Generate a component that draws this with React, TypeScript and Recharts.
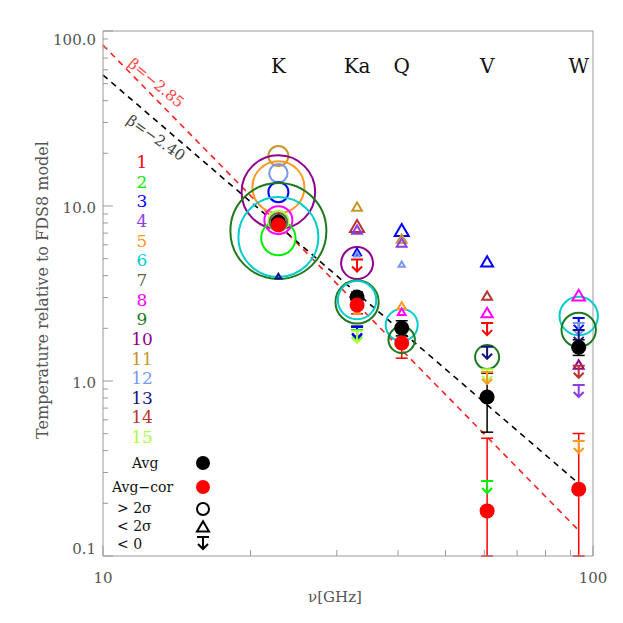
import React from "react";
import { ComposedChart, XAxis, YAxis, Scatter, ErrorBar, ReferenceLine } from "recharts";

// WMAP bands
const bandNames = ["K", "Ka", "Q", "V", "W"];
const bandNu = [22.8, 33.0, 40.7, 60.8, 93.5];

// region colours, 1..15
const regionColors = [
  "#ff0000", "#00ee00", "#0000ff", "#8a3ee0", "#ff9922",
  "#00cccc", "#5b6b4b", "#ff00ff", "#1f7a1f", "#900090",
  "#c8962a", "#7799ee", "#141480", "#bb3333", "#aaff44",
];

// > 2 sigma detections: [band, region, T, significance]
const detections: [number, number, number, number][] = [
  [0, 11, 19.3, 2.5], [0, 12, 15.4, 2.3], [0, 3, 12.0, 2.5], [0, 5, 12.8, 6.5],
  [0, 10, 12.0, 9.2], [0, 9, 7.2, 12], [0, 6, 6.65, 10], [0, 8, 8.3, 3.5],
  [0, 2, 6.56, 4.3], [0, 15, 8.2, 2.5], [0, 7, 8.1, 2.2],
  [1, 10, 4.72, 4.0], [1, 9, 2.83, 5.4], [1, 6, 2.9, 4.8],
  [2, 6, 2.09, 4.0], [2, 9, 1.72, 3.3],
  [3, 9, 1.37, 3.0],
  [4, 6, 2.35, 4.8], [4, 9, 1.96, 4.3],
];

// < 2 sigma: [band, region, T, significance]
const weak: [number, number, number, number][] = [
  [0, 14, 8.5, 1.2], [0, 13, 3.93, 0.8],
  [1, 11, 9.74, 1.4], [1, 14, 7.49, 2.0], [1, 4, 7.2, 1.4], [1, 3, 5.39, 1.1],
  [1, 12, 5.25, 0.8], [1, 5, 2.48, 0.8],
  [2, 3, 7.1, 2.0], [2, 11, 6.39, 1.4], [2, 4, 6.07, 1.4], [2, 12, 4.6, 0.9],
  [2, 5, 2.65, 1.2], [2, 8, 2.45, 1.1], [2, 2, 1.9, 0.8],
  [3, 3, 4.72, 1.7], [3, 14, 3.02, 1.4], [3, 8, 2.41, 1.6],
  [4, 8, 3.02, 1.8], [4, 10, 1.22, 1.4],
];

// < 0: [band, region, T]
const negative: [number, number, number][] = [
  [1, 1, 4.57], [1, 13, 1.9], [1, 3, 1.88], [1, 2, 1.81], [1, 15, 1.79],
  [3, 1, 1.98], [3, 13, 1.45], [3, 15, 1.08], [3, 5, 1.04], [3, 2, 0.248],
  [4, 3, 2.12], [4, 12, 1.98], [4, 13, 1.81], [4, 14, 1.13], [4, 4, 0.877], [4, 5, 0.42],
];

const avgT = [8.1, 3.02, 2.01, 0.81, 1.56];
const avgErr = [0.3, 0.2, 0.2, 0.3, 0.16];
const avgCorT = [7.79, 2.72, 1.65, 0.181, 0.241];
const avgCorErr = [0.3, 0.3, 0.3, 0.29, 0.26];

// power-law lines
const beta285 = [{ x: 10, y: 83 }, { x: 93.5, y: 0.14 }];
const beta240 = [{ x: 10, y: 56 }, { x: 92, y: 0.27 }];

const xTicks = [10, 20, 30, 40, 50, 60, 70, 80, 90, 100];
const xLabels: Record<number, string> = { 10: "10", 100: "100" };
const yTicks = [
  0.1, 0.2, 0.3, 0.4, 0.5, 0.6, 0.7, 0.8, 0.9,
  1, 2, 3, 4, 5, 6, 7, 8, 9,
  10, 20, 30, 40, 50, 60, 70, 80, 90, 100,
];
const yLabels: Record<number, string> = { 0.1: "0.1", 1: "1.0", 10: "10.0", 100: "100.0" };

const bandLabelLevel = 63;
const axisColor = "#9a9a9a";
const textGray = "#555";
const font = "DejaVu Serif";

const symbols = [
  ...detections.map(([b, r, t, s]) => ({ nu: bandNu[b], t, sig: s, kind: "circle", color: regionColors[r - 1] })),
  ...weak.map(([b, r, t, s]) => ({ nu: bandNu[b], t, sig: s, kind: "tri", color: regionColors[r - 1] })),
  ...negative.map(([b, r, t]) => ({ nu: bandNu[b], t, sig: 1, kind: "lim", color: regionColors[r - 1] })),
];

const clipErr = (t: number, e: number) => [Math.min(e, t - 0.1), e];
const avgData = bandNu.map((nu, i) => ({ nu, t: avgT[i], err: clipErr(avgT[i], avgErr[i]) }));
const avgCorData = bandNu.map((nu, i) => ({ nu, t: avgCorT[i], err: clipErr(avgCorT[i], avgCorErr[i]) }));
const bandData = bandNu.map((nu, i) => ({ nu, t: bandLabelLevel, name: bandNames[i] }));

function limPath(cx: number, cy: number) {
  return `M${cx - 6},${cy - 6}H${cx + 6}M${cx},${cy - 6}V${cy + 6}M${cx - 5},${cy + 1}L${cx},${cy + 6}L${cx + 5},${cy + 1}`;
}

function triPoints(cx: number, cy: number, hw: number) {
  const h = hw * 1.7;
  return `${cx},${cy - (h * 2) / 3} ${cx - hw},${cy + h / 3} ${cx + hw},${cy + h / 3}`;
}

function Marker(props: any) {
  const { cx, cy, payload } = props;
  if (cx == null || cy == null) return <g />;
  const c = payload.color;
  if (payload.kind === "circle")
    return <circle cx={cx} cy={cy} r={payload.sig * 4} fill="none" stroke={c} strokeWidth={2} />;
  if (payload.kind === "tri")
    return <polygon points={triPoints(cx, cy, payload.sig * 3.5)} fill="none" stroke={c} strokeWidth={2} />;
  return <path d={limPath(cx, cy)} fill="none" stroke={c} strokeWidth={2} />;
}

const dot = (color: string) => (props: any) =>
  props.cx == null ? <g /> : <circle cx={props.cx} cy={props.cy} r={7.5} fill={color} />;

function BandLabel(props: any) {
  const { cx, cy, payload } = props;
  return (
    <text x={cx} y={cy} textAnchor="middle" dominantBaseline="central" fontFamily={font} fontSize={20} fill="#111">
      {payload.name}
    </text>
  );
}

function LeftTick({ x, y, payload }: any) {
  const v = payload.value;
  const label = yLabels[v];
  const dy = v === 100 ? 9 : v === 0.1 ? -7 : 2;
  return (
    <g>
      <line x1={x} x2={x + (label ? 10 : 5)} y1={y} y2={y} stroke={axisColor} />
      {label && (
        <text x={x - 7} y={y + dy} textAnchor="end" dominantBaseline="central" fontFamily={font} fontSize={15} fill={textGray}>
          {label}
        </text>
      )}
    </g>
  );
}

function RightTick({ x, y, payload }: any) {
  const major = yLabels[payload.value] != null;
  return <line x1={x} x2={x - (major ? 10 : 5)} y1={y} y2={y} stroke={axisColor} />;
}

function BottomTick({ x, y, payload }: any) {
  const label = xLabels[payload.value];
  return (
    <g>
      <line x1={x} x2={x} y1={y} y2={y - (label ? 10 : 6)} stroke={axisColor} />
      {label && (
        <text x={x} y={y + 22} textAnchor="middle" dominantBaseline="central" fontFamily={font} fontSize={15} fill={textGray}>
          {label}
        </text>
      )}
    </g>
  );
}

function TopTick({ x, y, payload }: any) {
  const major = xLabels[payload.value] != null;
  return <line x1={x} x2={x} y1={y} y2={y + (major ? 10 : 6)} stroke={axisColor} />;
}

function Overlay() {
  const legendNums = regionColors.map((c, i) => (
    <text key={i} x={142} y={162 + i * 19.65} textAnchor="middle" dominantBaseline="central" fontFamily={font} fontSize={17} fill={c}>
      {i + 1}
    </text>
  ));
  const t = { fontFamily: font, fontSize: 14, fill: "#111", dominantBaseline: "central" as const };
  return (
    <svg width={623} height={623} style={{ position: "absolute", left: 0, top: 0, pointerEvents: "none" }}>
      {legendNums}
      <text x={132} y={463} {...t}>Avg</text>
      <circle cx={203} cy={463} r={7} fill="#000" />
      <text x={112} y={487} {...t}>Avg−cor</text>
      <circle cx={203} cy={487} r={7} fill="#ff0000" />
      <text x={117} y={508} {...t}>{"> 2σ"}</text>
      <circle cx={203} cy={509} r={6} fill="none" stroke="#000" strokeWidth={2} />
      <text x={117} y={526} {...t}>{"< 2σ"}</text>
      <polygon points={triPoints(203, 528, 6)} fill="none" stroke="#000" strokeWidth={2} />
      <text x={117} y={544} {...t}>{"< 0"}</text>
      <path d={limPath(203, 543)} fill="none" stroke="#000" strokeWidth={2} />

      <text x={156} y={83} transform="rotate(40 156 83)" textAnchor="middle" dominantBaseline="central" fontFamily={font} fontSize={15} fill="#ff4444">
        β=−2.85
      </text>
      <text x={156} y={138} transform="rotate(35 156 138)" textAnchor="middle" dominantBaseline="central" fontFamily={font} fontSize={15} fill="#444">
        β=−2.40
      </text>

      <text x={42} y={290} transform="rotate(-90 42 290)" textAnchor="middle" dominantBaseline="central" fontFamily={font} fontSize={16} fill={textGray}>
        Temperature relative to FDS8 model
      </text>
      <text x={335} y={597} textAnchor="middle" dominantBaseline="central" fontFamily={font} fontSize={15} fill={textGray}>
        ν[GHz]
      </text>
    </svg>
  );
}

export default function App() {
  return (
    <div style={{ position: "absolute", left: 0, top: 0, width: 623, height: 623, background: "#fff" }}>
      <ComposedChart width={623} height={623} margin={{ top: 30, right: 29, bottom: 27, left: 43 }}>
        <XAxis dataKey="nu" type="number" scale="log" domain={[10, 100]} ticks={xTicks} interval={0}
          height={40} tickSize={0} tickMargin={0} tick={BottomTick} stroke={axisColor} />
        <XAxis xAxisId="top" orientation="top" dataKey="nu" type="number" scale="log" domain={[10, 100]} ticks={xTicks}
          interval={0} height={1} tickSize={0} tickMargin={0} tick={TopTick} stroke={axisColor} />
        <YAxis dataKey="t" type="number" scale="log" domain={[0.1, 100]} ticks={yTicks} interval={0}
          width={60} tickSize={0} tickMargin={0} tick={LeftTick} stroke={axisColor} />
        <YAxis yAxisId="right" orientation="right" dataKey="t" type="number" scale="log" domain={[0.1, 100]} ticks={yTicks}
          interval={0} width={1} tickSize={0} tickMargin={0} tick={RightTick} stroke={axisColor} />

        <ReferenceLine segment={beta285} stroke="#ff2020" strokeDasharray="6 5" strokeWidth={1.6} ifOverflow="visible" />
        <ReferenceLine segment={beta240} stroke="#000" strokeDasharray="6 5" strokeWidth={1.6} ifOverflow="visible" />

        <Scatter data={bandData} shape={BandLabel} isAnimationActive={false} />
        <Scatter data={symbols} shape={Marker} isAnimationActive={false} />
        <Scatter data={avgData} shape={dot("#000")} isAnimationActive={false}>
          <ErrorBar dataKey="err" direction="y" stroke="#000" strokeWidth={1.5} width={6} isAnimationActive={false} />
        </Scatter>
        <Scatter data={avgCorData} shape={dot("#ff0000")} isAnimationActive={false}>
          <ErrorBar dataKey="err" direction="y" stroke="#ff0000" strokeWidth={1.5} width={6} isAnimationActive={false} />
        </Scatter>
      </ComposedChart>
      <Overlay />
    </div>
  );
}
